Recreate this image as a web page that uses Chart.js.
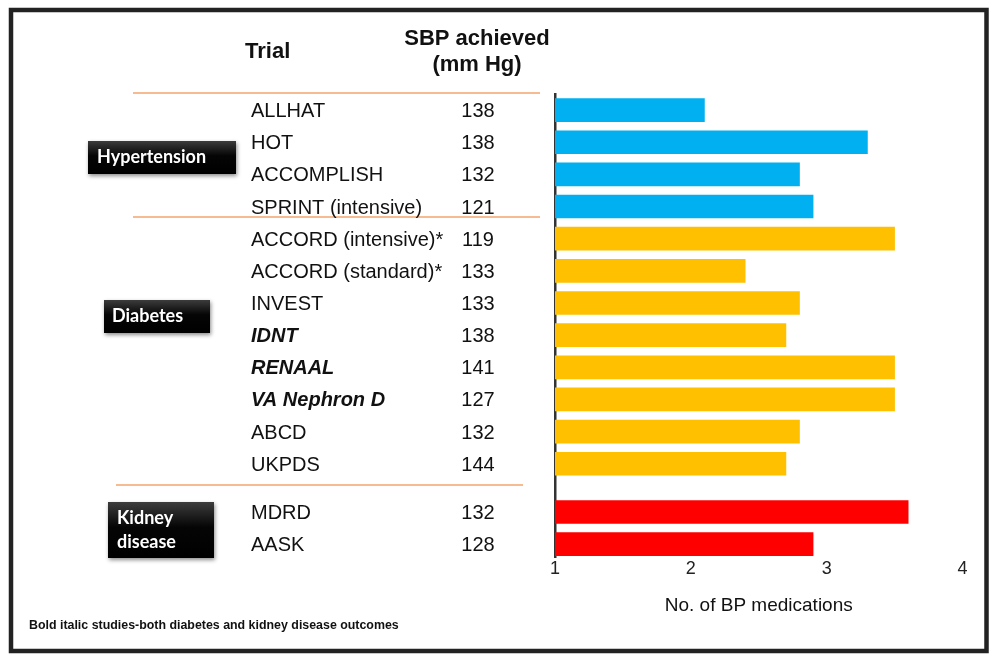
<!DOCTYPE html>
<html lang="en">
<head>
  <meta charset="UTF-8">
  <title>BP medications by trial</title>
  <script src="https://cdn.jsdelivr.net/npm/chart.js"></script>
  <style>
    body {
      margin: 0;
      padding: 0;
      background: #fff;
    }
    #wrap {
      position: relative;
      width: 993px;
      height: 662px;
    }
  </style>
</head>
<body>
  <div id="wrap">
    <canvas id="medsChart" width="993" height="662"></canvas>
  </div>

  <script>
    // trial data
    const trials = ['ALLHAT', 'HOT', 'ACCOMPLISH', 'SPRINT (intensive)',
      'ACCORD (intensive)*', 'ACCORD (standard)*', 'INVEST', 'IDNT', 'RENAAL',
      'VA Nephron D', 'ABCD', 'UKPDS', 'MDRD', 'AASK'];
    const sbpAchieved = [138, 138, 132, 121, 119, 133, 133, 138, 141, 127, 132, 144, 132, 128];
    const bpMeds = [2.1, 3.3, 2.8, 2.9, 3.5, 2.4, 2.8, 2.7, 3.5, 3.5, 2.8, 2.7, 3.6, 2.9];
    const trialGroup = ['Hypertension', 'Hypertension', 'Hypertension', 'Hypertension',
      'Diabetes', 'Diabetes', 'Diabetes', 'Diabetes', 'Diabetes', 'Diabetes', 'Diabetes', 'Diabetes',
      'Kidney disease', 'Kidney disease'];
    const boldItalicTrials = ['IDNT', 'RENAAL', 'VA Nephron D'];
    const xTicks = [1, 2, 3, 4];

    const groupColors = {
      'Hypertension': '#00B0F0',
      'Diabetes': '#FFC000',
      'Kidney disease': '#FF0000'
    };

    // row slot for each trial, kidney group sits half a row lower
    const rowPos = trials.map((t, i) => trialGroup[i] === 'Kidney disease' ? i + 0.5 : i);

    const FONT = "'Liberation Sans', Arial, Helvetica, sans-serif";

    function drawBox(ctx, x, y, w, h, lines, textX, baselines) {
      ctx.save();
      ctx.shadowColor = 'rgba(0,0,0,0.45)';
      ctx.shadowBlur = 4;
      ctx.shadowOffsetX = 1;
      ctx.shadowOffsetY = 2;
      const g = ctx.createLinearGradient(0, y, 0, y + h);
      g.addColorStop(0, '#3c3c3c');
      g.addColorStop(0.45, '#050505');
      g.addColorStop(1, '#000');
      ctx.fillStyle = g;
      ctx.fillRect(x, y, w, h);
      ctx.restore();
      ctx.save();
      ctx.fillStyle = '#fff';
      ctx.font = "bold 18px Lato, 'Open Sans', sans-serif";
      ctx.textAlign = 'left';
      ctx.textBaseline = 'alphabetic';
      lines.forEach((l, k) => ctx.fillText(l, textX, baselines[k]));
      ctx.restore();
    }

    const leftTable = {
      id: 'leftTable',
      beforeDraw(chart) {
        const ctx = chart.ctx;
        ctx.save();
        ctx.fillStyle = '#fff';
        ctx.fillRect(0, 0, chart.width, chart.height);
        ctx.restore();
      },
      afterDraw(chart) {
        const ctx = chart.ctx;
        const y = chart.scales.y;
        ctx.save();

        // frame
        ctx.strokeStyle = '#222';
        ctx.lineWidth = 4.5;
        ctx.strokeRect(11, 10, 975.5, 641);

        // headers
        ctx.fillStyle = '#111';
        ctx.textBaseline = 'middle';
        ctx.font = 'bold 22px ' + FONT;
        ctx.textAlign = 'left';
        ctx.fillText('Trial', 245, 52);
        ctx.textAlign = 'center';
        ctx.fillText('SBP achieved', 477, 39);
        ctx.fillText('(mm Hg)', 477, 65);

        // separator lines
        ctx.strokeStyle = '#F5A56E';
        ctx.lineWidth = 1.5;
        [[133, 540, 93], [133, 540, 217], [116, 523, 485]].forEach(s => {
          ctx.beginPath();
          ctx.moveTo(s[0], s[2]);
          ctx.lineTo(s[1], s[2]);
          ctx.stroke();
        });

        // trial rows
        trials.forEach((t, i) => {
          const py = y.getPixelForValue(rowPos[i]) + 1.5;
          const bi = boldItalicTrials.includes(t);
          ctx.fillStyle = '#111';
          ctx.textAlign = 'left';
          ctx.font = (bi ? 'italic bold ' : '') + '20px ' + FONT;
          ctx.fillText(t, 251, py);
          ctx.font = '20px ' + FONT;
          ctx.textAlign = 'center';
          ctx.fillText(String(sbpAchieved[i]), 478, py);
        });

        // group boxes
        drawBox(ctx, 88, 141, 148, 33, ['Hypertension'], 97, [163]);
        drawBox(ctx, 104, 300, 106, 33, ['Diabetes'], 112, [322]);
        drawBox(ctx, 108, 502, 106, 56, ['Kidney', 'disease'], 117, [524, 548]);

        // footnote
        ctx.fillStyle = '#111';
        ctx.textAlign = 'left';
        ctx.textBaseline = 'middle';
        ctx.font = 'bold 12.4px ' + FONT;
        ctx.fillText('Bold italic studies-both diabetes and kidney disease outcomes', 29, 626);

        ctx.restore();
      }
    };

    const ctx = document.getElementById('medsChart').getContext('2d');
    const medsChart = new Chart(ctx, {
      type: 'bar',
      data: {
        datasets: [{
          data: bpMeds.map((v, i) => ({ x: v, y: rowPos[i] })),
          backgroundColor: trialGroup.map(g => groupColors[g]),
          borderWidth: 0,
          barThickness: 23
        }]
      },
      options: {
        indexAxis: 'y',
        responsive: false,
        animation: false,
        events: [],
        layout: {
          padding: { left: 555, top: 94, right: 30.5, bottom: 41 }
        },
        plugins: {
          legend: { display: false },
          tooltip: { enabled: false }
        },
        scales: {
          x: {
            type: 'linear',
            min: xTicks[0],
            max: xTicks[xTicks.length - 1],
            afterBuildTicks: s => { s.ticks = xTicks.map(v => ({ value: v })); },
            afterFit: s => { s.height = 64; },
            grid: { display: false, drawTicks: false },
            border: { display: false },
            ticks: {
              color: '#222',
              padding: 1,
              font: { family: FONT, size: 18 }
            },
            title: {
              display: true,
              text: 'No. of BP medications',
              color: '#111',
              font: { family: FONT, size: 19 },
              padding: { top: 4, bottom: 4 }
            }
          },
          y: {
            type: 'linear',
            reverse: true,
            offset: false,
            min: -0.5,
            max: 13.9,
            z: 1,
            afterFit: s => { s.width = 0; },
            grid: { display: false, drawTicks: false },
            border: { display: true, color: '#333', width: 2.5 },
            ticks: { display: false }
          }
        }
      },
      plugins: [leftTable]
    });
  </script>
</body>
</html>
